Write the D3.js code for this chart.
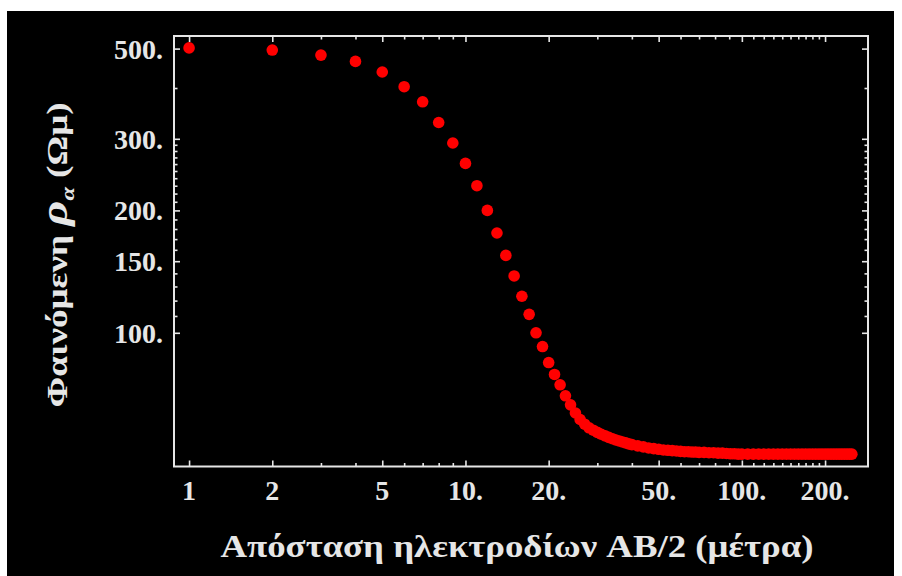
<!DOCTYPE html>
<html>
<head>
<meta charset="utf-8">
<script src="https://cdn.jsdelivr.net/npm/d3@7"></script>
<style>
  html, body { margin: 0; padding: 0; background: #ffffff; }
  svg { display: block; }
</style>
</head>
<body>
<svg id="chart" width="902" height="576"></svg>
<script>
// ---------------- data ----------------
const xValues = [
  1, 2, 3, 4, 5, 6, 7, 8, 9, 10,
  11, 12, 13, 14, 15, 16, 17, 18, 19, 20,
  21, 22, 23, 24, 25, 26, 27, 28, 29, 30,
  31, 32, 33, 34, 35, 36, 37, 38, 39, 40,
  42, 44, 46, 48, 50, 52, 54, 56, 58, 60, 62, 64, 66, 68, 70,
  73, 76, 79, 82, 85, 88, 91, 94, 97, 100,
  105, 110, 115, 120, 125, 130, 135, 140, 145, 150,
  155, 160, 165, 170, 175, 180, 185, 190, 195, 200,
  205, 210, 215, 220, 225, 230, 235, 240, 245, 250
];
const rhoValues = [
  502, 496, 482, 465, 438, 403, 370, 329, 293, 261,
  230, 200, 176, 155, 138, 123, 111, 100, 92.5, 84.5,
  79, 74.5, 70, 66.5, 63.5, 61.2, 59.6, 58.4, 57.6, 56.9,
  56.3, 55.8, 55.3, 54.9, 54.5, 54.2, 53.9, 53.6, 53.3, 53.1,
  52.7, 52.4, 52.1, 51.9, 51.7, 51.5, 51.4, 51.3, 51.2, 51.1, 51.0, 51.0, 50.9, 50.9, 50.8,
  50.8, 50.7, 50.7, 50.6, 50.6, 50.5, 50.4, 50.4, 50.3, 50.3,
  50.3, 50.3, 50.3, 50.3, 50.3, 50.3, 50.3, 50.3, 50.3, 50.3,
  50.3, 50.3, 50.3, 50.3, 50.3, 50.3, 50.3, 50.3, 50.3, 50.3,
  50.3, 50.3, 50.3, 50.3, 50.3, 50.3, 50.3, 50.3, 50.3, 50.3
];
const xMajorTicks = [1, 2, 5, 10, 20, 50, 100, 200];
const xTickLabels = ["1", "2", "5", "10.", "20.", "50.", "100.", "200."];
const xMinorTicks = [3, 4, 6, 7, 8, 9, 30, 40, 60, 70, 80, 90,
  110, 120, 130, 140, 150, 160, 170, 180, 190];
const yMajorTicks = [100, 150, 200, 300, 500];
const yTickLabels = ["100.", "150.", "200.", "300.", "500."];
const yMinorTicks = [110, 120, 130, 140, 160, 170, 180, 190,
  210, 220, 230, 240, 250, 260, 270, 280, 290, 400];
const xTitle = "Απόσταση ηλεκτροδίων AB/2 (μέτρα)";
const yTitleMain = "Φαινόμενη ";
const yTitleSymbol = "ρ";
const yTitleSub = "α";
const yTitleUnit = " (Ωμ)";

// ---------------- layout ----------------
const svg = d3.select("#chart");
const frame = { left: 174, right: 868, top: 36, bottom: 466.5 };
const fg = "#e6e6e6";
const serif = "'Liberation Serif', 'Times New Roman', serif";

svg.append("rect").attr("x", 7).attr("y", 11).attr("width", 887).attr("height", 565)
  .attr("fill", "#000");

const x = d3.scaleLog().domain([0.882, 286]).range([frame.left, frame.right]);
const y = d3.scaleLog().domain([46.9, 537]).range([frame.bottom, frame.top]);

// axes (ticks drawn inward on all four sides)
function styleAxis(g) {
  g.select(".domain").remove();
  g.selectAll("line").attr("stroke", fg).attr("stroke-width", 1.6);
  g.selectAll("text").remove();
}
const majorLen = 6, minorLen = 3.5;

svg.append("g").attr("transform", `translate(0,${frame.bottom})`)
  .call(d3.axisTop(x).tickValues(xMajorTicks).tickSize(majorLen)).call(styleAxis);
svg.append("g").attr("transform", `translate(0,${frame.bottom})`)
  .call(d3.axisTop(x).tickValues(xMinorTicks).tickSize(minorLen)).call(styleAxis);
svg.append("g").attr("transform", `translate(0,${frame.top})`)
  .call(d3.axisBottom(x).tickValues(xMajorTicks).tickSize(majorLen)).call(styleAxis);
svg.append("g").attr("transform", `translate(0,${frame.top})`)
  .call(d3.axisBottom(x).tickValues(xMinorTicks).tickSize(minorLen)).call(styleAxis);
svg.append("g").attr("transform", `translate(${frame.left},0)`)
  .call(d3.axisRight(y).tickValues(yMajorTicks).tickSize(majorLen)).call(styleAxis);
svg.append("g").attr("transform", `translate(${frame.left},0)`)
  .call(d3.axisRight(y).tickValues(yMinorTicks).tickSize(minorLen)).call(styleAxis);
svg.append("g").attr("transform", `translate(${frame.right},0)`)
  .call(d3.axisLeft(y).tickValues(yMajorTicks).tickSize(majorLen)).call(styleAxis);
svg.append("g").attr("transform", `translate(${frame.right},0)`)
  .call(d3.axisLeft(y).tickValues(yMinorTicks).tickSize(minorLen)).call(styleAxis);

// frame
svg.append("rect")
  .attr("x", frame.left).attr("y", frame.top)
  .attr("width", frame.right - frame.left).attr("height", frame.bottom - frame.top)
  .attr("fill", "none").attr("stroke", fg).attr("stroke-width", 2);

// tick labels
svg.append("g").selectAll("text").data(xMajorTicks).join("text")
  .attr("x", d => x(d)).attr("y", 500)
  .attr("text-anchor", "middle")
  .attr("font-family", serif).attr("font-weight", "bold").attr("font-size", 28)
  .attr("fill", fg)
  .text((d, i) => xTickLabels[i]);

svg.append("g").selectAll("text").data(yMajorTicks).join("text")
  .attr("x", 163).attr("y", d => y(d) + 10)
  .attr("text-anchor", "end")
  .attr("font-family", serif).attr("font-weight", "bold").attr("font-size", 28)
  .attr("fill", fg)
  .text((d, i) => yTickLabels[i]);

// axis titles
svg.append("text")
  .attr("transform", "translate(517,557) scale(1.15,1)")
  .attr("text-anchor", "middle")
  .attr("font-family", serif).attr("font-weight", "bold").attr("font-size", 32)
  .attr("fill", fg)
  .text(xTitle);

const yt = svg.append("text")
  .attr("transform", "translate(67,255) rotate(-90) scale(1.28,1)")
  .attr("text-anchor", "middle")
  .attr("font-family", serif).attr("font-weight", "bold").attr("font-size", 29)
  .attr("fill", fg);
yt.append("tspan").text(yTitleMain);
yt.append("tspan").attr("font-style", "italic").attr("font-size", 38).text(yTitleSymbol);
yt.append("tspan").attr("font-style", "italic").attr("font-size", 19).attr("dy", 7).text(yTitleSub);
yt.append("tspan").attr("dy", -7).text(yTitleUnit);

// points
const pts = xValues.map((v, i) => ({ x: v, y: rhoValues[i] }));
svg.append("g").selectAll("circle").data(pts).join("circle")
  .attr("cx", d => x(d.x)).attr("cy", d => y(d.y)).attr("r", 5.8)
  .attr("fill", "#ff0000");
</script>
</body>
</html>
